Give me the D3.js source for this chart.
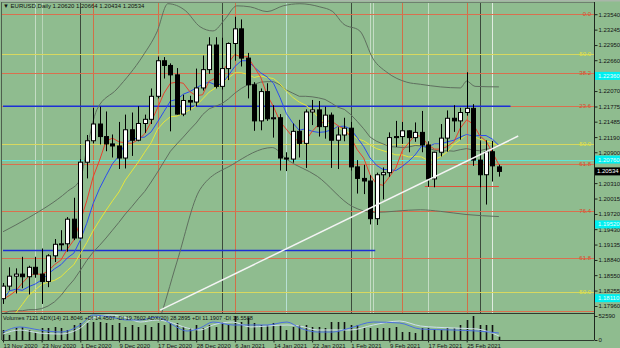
<!DOCTYPE html>
<html>
<head>
<meta charset="utf-8">
<script src="https://cdn.jsdelivr.net/npm/d3@7"></script>
<style>
  body { margin: 0; background: #8fbc8f; }
  svg { display: block; font-family: "Liberation Sans", Arial, sans-serif; }
</style>
</head>
<body>
<script>
// ---- data (EURUSD, Daily) ----
const dates = ["2020-11-13","2020-11-16","2020-11-17","2020-11-18","2020-11-19","2020-11-20","2020-11-23","2020-11-24","2020-11-25","2020-11-26",
  "2020-11-27","2020-11-30","2020-12-01","2020-12-02","2020-12-03","2020-12-04","2020-12-07","2020-12-08","2020-12-09","2020-12-10",
  "2020-12-11","2020-12-14","2020-12-15","2020-12-16","2020-12-17","2020-12-18","2020-12-21","2020-12-22","2020-12-23","2020-12-24",
  "2020-12-28","2020-12-29","2020-12-30","2020-12-31","2021-01-04","2021-01-05","2021-01-06","2021-01-07","2021-01-08","2021-01-11",
  "2021-01-12","2021-01-13","2021-01-14","2021-01-15","2021-01-18","2021-01-19","2021-01-20","2021-01-21","2021-01-22","2021-01-25",
  "2021-01-26","2021-01-27","2021-01-28","2021-01-29","2021-02-01","2021-02-02","2021-02-03","2021-02-04","2021-02-05","2021-02-08",
  "2021-02-09","2021-02-10","2021-02-11","2021-02-12","2021-02-15","2021-02-16","2021-02-17","2021-02-18","2021-02-19","2021-02-22",
  "2021-02-23","2021-02-24","2021-02-25","2021-02-26","2021-03-01","2021-03-02","2021-03-03","2021-03-04"];

const open = [1.1810,1.1834,1.1853,1.1857,1.1852,1.1870,1.1857,1.1843,1.1892,1.1914,
  1.1915,1.1962,1.1926,1.2071,1.2112,1.2144,1.2120,1.2106,1.2102,1.2079,
  1.2133,1.2113,1.2145,1.2153,1.2197,1.2265,1.2256,1.2238,1.2163,1.2189,
  1.2186,1.2213,1.2248,1.2295,1.2216,1.2250,1.2298,1.2326,1.2270,1.2219,
  1.2150,1.2206,1.2154,1.2156,1.2079,1.2077,1.2130,1.2107,1.2167,1.2171,
  1.2139,1.2161,1.2113,1.2123,1.2136,1.2062,1.2040,1.2035,1.1963,1.2047,
  1.2051,1.2118,1.2120,1.2131,1.2118,1.2128,1.2104,1.2039,1.2090,1.2117,
  1.2155,1.2150,1.2166,1.2174,1.2075,1.2047,1.2091,1.20620];
const high = [1.1840,1.1870,1.1868,1.1890,1.1873,1.1890,1.1906,1.1895,1.1924,1.1941,
  1.1966,1.2003,1.2077,1.2123,1.2175,1.2177,1.2168,1.2124,1.2148,1.2162,
  1.2166,1.2178,1.2162,1.2212,1.2273,1.2272,1.2260,1.2251,1.2200,1.2198,
  1.2250,1.2275,1.2310,1.2310,1.2309,1.2300,1.2349,1.2344,1.2280,1.2224,
  1.2212,1.2222,1.2180,1.2163,1.2090,1.2145,1.2152,1.2172,1.2190,1.2188,
  1.2177,1.2166,1.2138,1.2156,1.2148,1.2075,1.2066,1.2046,1.2051,1.2061,
  1.2128,1.2150,1.2148,1.2132,1.2147,1.2169,1.2111,1.2091,1.2144,1.2170,
  1.2180,1.2175,1.2243,1.2182,1.2111,1.2113,1.2112,1.20664];
const low = [1.1800,1.1826,1.1820,1.1830,1.1818,1.1850,1.1800,1.1832,1.1880,1.1902,
  1.1900,1.1922,1.1925,1.2040,1.2107,1.2105,1.2092,1.2080,1.2058,1.2059,
  1.2083,1.2111,1.2127,1.2144,1.2193,1.2231,1.2130,1.2162,1.2159,1.2170,
  1.2178,1.2208,1.2240,1.2212,1.2210,1.2228,1.2265,1.2254,1.2193,1.2131,
  1.2132,1.2150,1.2118,1.2055,1.2054,1.2070,1.2080,1.2060,1.2142,1.2120,
  1.2116,1.2060,1.2058,1.2111,1.2055,1.2011,1.2010,1.1952,1.1951,1.2000,
  1.2043,1.2100,1.2106,1.2090,1.2110,1.2090,1.2024,1.2023,1.2082,1.2091,
  1.2129,1.2114,1.2160,1.2064,1.2023,1.1990,1.2034,1.20434];
const close = [1.1834,1.1853,1.1857,1.1852,1.1870,1.1857,1.1843,1.1892,1.1914,1.1915,
  1.1962,1.1926,1.2071,1.2112,1.2144,1.2120,1.2106,1.2102,1.2079,1.2133,
  1.2113,1.2145,1.2153,1.2197,1.2265,1.2256,1.2238,1.2163,1.2189,1.2186,
  1.2213,1.2248,1.2295,1.2216,1.2250,1.2298,1.2326,1.2270,1.2219,1.2150,
  1.2206,1.2154,1.2156,1.2079,1.2077,1.2130,1.2107,1.2167,1.2171,1.2139,
  1.2161,1.2113,1.2123,1.2136,1.2062,1.2040,1.2035,1.1963,1.2047,1.2051,
  1.2118,1.2120,1.2131,1.2118,1.2128,1.2104,1.2039,1.2090,1.2117,1.2155,
  1.2150,1.2166,1.2174,1.2075,1.2047,1.2091,1.2064,1.20534];

const volume = [21900,11000,26300,28500,21900,17500,26300,26300,28500,26300,
  21900,32900,37200,37200,39400,39400,37200,32900,37200,28500,
  32900,28500,32900,28500,37200,32900,39400,37200,28500,26300,
  32900,26300,32900,28500,39400,32900,52600,39400,48200,37200,
  32900,32900,37200,32900,21900,28500,32900,32900,28500,28500,
  26300,39400,39400,39400,32900,32900,26300,26300,26300,26300,
  26300,28500,17500,17500,15300,26300,26300,21900,21900,26300,
  26300,32900,43800,52600,32900,32900,32900,7121];

// moving averages (red fast, blue mid, yellow slow)
const maRed = [1.1809,1.1816,1.1825,1.1840,1.1853,1.1858,1.1856,1.1863,1.1875,1.1884,1.1905,1.1922,1.1958,1.1997,1.2043,1.2075,1.2111,1.2117,1.2110,1.2108,
  1.2107,1.2114,1.2125,1.2148,1.2175,1.2203,1.2222,1.2224,1.2222,1.2206,1.2198,1.2200,1.2226,1.2232,1.2244,1.2261,1.2277,1.2272,1.2273,1.2253,
  1.2234,1.2200,1.2177,1.2149,1.2134,1.2119,1.2110,1.2112,1.2130,1.2143,1.2149,1.2150,1.2141,1.2134,1.2119,1.2095,1.2079,1.2047,1.2029,1.2027,
  1.2043,1.2060,1.2093,1.2108,1.2123,1.2120,1.2104,1.2096,1.2096,1.2101,1.2110,1.2136,1.2152,1.2144,1.2122,1.2111,1.2090,1.2066];
const maBlue = [1.1808,1.1825,1.1828,1.1826,1.1833,1.1838,1.1846,1.1857,1.1867,1.1875,1.1888,1.1897,1.1922,1.1954,1.1992,1.2021,1.2045,1.2068,1.2083,1.2108,
  1.2114,1.2118,1.2119,1.2129,1.2148,1.2168,1.2188,1.2191,1.2201,1.2206,1.2213,1.2220,1.2224,1.2219,1.2220,1.2237,1.2254,1.2265,1.2265,1.2253,
  1.2242,1.2234,1.2222,1.2195,1.2164,1.2146,1.2132,1.2135,1.2130,1.2128,1.2129,1.2133,1.2139,1.2140,1.2134,1.2118,1.2101,1.2079,1.2065,1.2057,
  1.2057,1.2055,1.2063,1.2073,1.2085,1.2102,1.2101,1.2106,1.2106,1.2110,1.2113,1.2119,1.2124,1.2121,1.2122,1.2122,1.2115,1.2103];
const maYellow = [1.1761,1.1769,1.1783,1.1799,1.1816,1.1827,1.1837,1.1842,1.1845,1.1852,1.1864,1.1875,1.1896,1.1917,1.1940,1.1960,1.1979,1.1997,1.2014,1.2037,
  1.2054,1.2071,1.2090,1.2108,1.2134,1.2148,1.2158,1.2159,1.2165,1.2171,1.2179,1.2192,1.2205,1.2213,1.2221,1.2232,1.2242,1.2242,1.2239,1.2233,
  1.2236,1.2233,1.2231,1.2221,1.2207,1.2195,1.2186,1.2180,1.2170,1.2156,1.2147,1.2139,1.2137,1.2132,1.2125,1.2116,1.2112,1.2104,1.2097,1.2093,
  1.2089,1.2085,1.2085,1.2081,1.2082,1.2081,1.2074,1.2076,1.2082,1.2091,1.2105,1.2114,1.2124,1.2121,1.2115,1.2112,1.2108,1.2102];

// bands: middle per bar, upper/lower read as [bar, price]
const bbMid = [1.1781,1.1786,1.1787,1.1787,1.1789,1.1789,1.1791,1.1796,1.1804,1.1816,1.1832,1.1846,1.1864,1.1883,1.1899,1.1912,1.1926,1.1941,1.1956,1.1972,
  1.1986,1.2001,1.2015,1.2033,1.2052,1.2072,1.2092,1.2106,1.2119,1.2133,1.2146,1.2162,1.2173,1.2178,1.2183,1.2192,1.2203,1.2212,1.2219,1.2220,
  1.2224,1.2225,1.2225,1.2219,1.2209,1.2203,1.2197,1.2197,1.2196,1.2194,1.2191,1.2184,1.2176,1.2172,1.2162,1.2149,1.2135,1.2119,1.2111,1.2106,
  1.2101,1.2100,1.2099,1.2100,1.2103,1.2102,1.2098,1.2094,1.2092,1.2093,1.2092,1.2095,1.2097,1.2094,1.2093,1.2096,1.2097,1.2102];
const bbUpper = [[0,1.1938],[4,1.1965],[10,1.2015],[12,1.2038],[13,1.2096],[14.6,1.2172],[17.7,1.2211],[21.7,1.2274],[23.9,1.2320],
  [25.6,1.2374],[28.3,1.2361],[30.6,1.2330],[32.6,1.2322],[34.5,1.2345],[36.3,1.2370],[38.4,1.2368],[41,1.2359],[43.5,1.2370],
  [46.1,1.2374],[49.2,1.2368],[51.2,1.2359],[52.8,1.2336],[55.4,1.2322],[57.5,1.2268],[59.6,1.2243],[62.7,1.2224],[64.8,1.2220],
  [67.9,1.2215],[71,1.2213],[72,1.2226],[73.3,1.2216],[77,1.2215]];
const bbLower = [[0,1.1650],[12,1.1640],[20,1.1680],[24,1.1760],[27,1.1880],[30.6,1.2019],[35.7,1.2067],[41.8,1.2099],[44.1,1.2076],
  [48.8,1.2044],[54.3,1.1986],[57.5,1.1975],[64.8,1.1980],[67.9,1.1977],[71.9,1.1971],[77,1.1967]];

// volume window lines
const volLineBlue = [[0,17500],[2.6,28500],[5.7,21900],[8.9,17500],[12,32900],[14,54800],[16.6,50400],[19.3,43800],[21.3,43800],[23.9,50400],
  [24.8,46000],[26.4,32900],[28.6,19700],[30.6,26300],[32.6,39400],[35.7,32900],[38.4,32900],[41,32900],[44.1,39400],[46.1,26300],
  [48.8,17500],[51.2,17500],[53.9,26300],[57.5,39400],[61.6,37200],[64.8,24100],[69.9,21900],[73.6,19700],[77,15300]];
const volLineLight = [[0,13100],[2.6,21900],[5.7,15300],[8.9,13100],[12,26300],[14,48200],[16.6,54800],[19.3,48200],[21.3,39400],[23.9,43800],
  [25.8,39400],[28.6,26300],[30.6,21900],[32.6,32900],[35.7,39400],[38.4,28500],[41,30700],[44.1,32900],[46.1,30700],[48.8,21900],
  [51.2,21900],[53.9,21900],[57.5,32900],[61.6,41600],[64.8,30700],[69.9,26300],[73.6,24100],[77,8800]];

// price axis / date axis labels (the one hidden under the close marker is left out)
const priceTicks = [1.17960,1.18255,1.18550,1.18840,1.19135,1.19430,1.19720,1.20015,1.20310,
  1.20900,1.21190,1.21485,1.21775,1.22070,1.22365,1.22660,1.22950,1.23245,1.23540];
const dateTicks = ["2020-11-13","2020-11-23","2020-12-01","2020-12-09","2020-12-17","2020-12-28","2021-01-06",
  "2021-01-14","2021-01-22","2021-02-01","2021-02-09","2021-02-17","2021-02-25"];

// drawn objects
const fibLevels = [1.2355, 1.2278, 1.2242, 1.2178, 1.2105, 1.2067, 1.1977, 1.1888, 1.1823, 1.1786];
const fibLabels = ["0.0", "50.0", "38.2", "23.6", "50.0", "61.8", "76.4", "61.8", "50.0", ""];
const fibColors = ["#d9704f", "#d8d860", "#d9704f", "#d9704f", "#d8d860", "#d9704f", "#d9704f", "#d9704f", "#d8d860", "#d9704f"];
const cyanLevels = [1.2236, 1.2076, 1.1952, 1.1811];
const blueLines = [{p: 1.2178, from: 0, to: 78.8}, {p: 1.1902, from: 0, to: 57.8}];
const redSegment = {p: 1.2026, from: 65.5, to: 77};
const trend = [[24.4, 1.1788], [80, 1.2121]];
const vLines = [{i: 5, c: "#c4dcc4"}, {i: 6, c: "#b8d6b8"}, {i: 12, c: "#3c4a3c"}, {i: 14, c: "#d07048"},
  {i: 24, c: "#d07048"}, {i: 34, c: "#3c4a3c"}, {i: 36, c: "#d07048"}, {i: 44, c: "#b8e0d4"},
  {i: 54, c: "#3c4a3c"}, {i: 57, c: "#c4dcc4"}, {i: 57.5, c: "#c4dcc4"}, {i: 62, c: "#d07048"},
  {i: 66, c: "#c4dcc4"}, {i: 72, c: "#d07048"}, {i: 74, c: "#3c4a3c"}, {i: 76, c: "#e0ece0"}];

// ---- layout ----
const W = 620, H = 348;
const left = 2, right = 594, mainTop = 2, mainBot = 313, indTop = 314, indBot = 340;

const x = d3.scaleLinear().domain([0, 77]).range([3, 498.9]);
const y = d3.scaleLinear().domain([1.17960, 1.23540]).range([306, 14.2]);
const yv = d3.scaleLinear().domain([0, 52590]).range([indBot, 316]);
const parse = d3.timeParse("%Y-%m-%d");
const fmt = d3.timeFormat("%-d %b %Y");
const px = v => Math.round(v) + 0.5;

const svg = d3.select("body").append("svg").attr("width", W).attr("height", H);
svg.append("rect").attr("width", W).attr("height", H).attr("fill", "#8fbc8f");
svg.append("rect").attr("width", W).attr("height", 1.5).attr("fill", "#a9b6a9");

const defs = svg.append("defs");
defs.append("clipPath").attr("id", "cm").append("rect")
  .attr("x", left).attr("y", mainTop).attr("width", right - left).attr("height", mainBot - mainTop);
defs.append("clipPath").attr("id", "ci").append("rect")
  .attr("x", left).attr("y", indTop).attr("width", right - left).attr("height", indBot - indTop);

const main = svg.append("g").attr("clip-path", "url(#cm)");

// vertical lines
main.selectAll(".vl").data(vLines).join("line")
  .attr("x1", d => px(x(d.i))).attr("x2", d => px(x(d.i)))
  .attr("y1", mainTop).attr("y2", mainBot)
  .attr("stroke", d => d.c).attr("stroke-width", 1);

// fibonacci / horizontal levels
main.selectAll(".fib").data(fibLevels).join("line")
  .attr("x1", left).attr("x2", right)
  .attr("y1", d => px(y(d))).attr("y2", d => px(y(d)))
  .attr("stroke", (d, i) => fibColors[i]).attr("stroke-width", 1);

main.append("line")
  .attr("x1", left).attr("x2", right)
  .attr("y1", px(y(cyanLevels[1]))).attr("y2", px(y(cyanLevels[1])))
  .attr("stroke", "#5ee6dc").attr("stroke-width", 1);

main.selectAll(".bl").data(blueLines).join("line")
  .attr("x1", d => x(d.from)).attr("x2", d => x(d.to))
  .attr("y1", d => y(d.p)).attr("y2", d => y(d.p))
  .attr("stroke", "#1c2fd6").attr("stroke-width", 1.6);

main.append("line")
  .attr("x1", x(redSegment.from)).attr("x2", x(redSegment.to))
  .attr("y1", px(y(redSegment.p))).attr("y2", px(y(redSegment.p)))
  .attr("stroke", "#e0503a").attr("stroke-width", 1.2);

// bands
const bandLine = d3.line().x(d => x(d[0])).y(d => y(d[1])).curve(d3.curveMonotoneX);
const seriesLine = d3.line().x((d, i) => x(i)).y(d => y(d));
main.append("path").attr("d", bandLine(bbUpper)).attr("fill", "none").attr("stroke", "#5f6f5f").attr("stroke-width", 1);
main.append("path").attr("d", bandLine(bbLower)).attr("fill", "none").attr("stroke", "#5f6f5f").attr("stroke-width", 1);
main.append("path").attr("d", seriesLine(bbMid)).attr("fill", "none").attr("stroke", "#5f6f5f").attr("stroke-width", 1);

// moving averages
[[maYellow, "#e6e63c"], [maBlue, "#2a4cf0"], [maRed, "#e8402c"]].forEach(([s, c]) => {
  main.append("path").attr("d", seriesLine(s)).attr("fill", "none").attr("stroke", c).attr("stroke-width", 1);
});

// candles
const candles = main.selectAll(".c").data(close).join("g");
candles.append("line")
  .attr("x1", (d, i) => px(x(i))).attr("x2", (d, i) => px(x(i)))
  .attr("y1", (d, i) => y(high[i])).attr("y2", (d, i) => y(low[i]))
  .attr("stroke", "#000").attr("stroke-width", 1);
candles.append("rect")
  .attr("x", (d, i) => Math.round(x(i)) - 1.5)
  .attr("width", 4)
  .attr("y", (d, i) => y(Math.max(open[i], d)))
  .attr("height", (d, i) => Math.max(1, Math.abs(y(open[i]) - y(d))))
  .attr("fill", (d, i) => d >= open[i] ? "#ffffff" : "#000000")
  .attr("stroke", "#000").attr("stroke-width", 1);

// trendline
main.append("line")
  .attr("x1", x(trend[0][0])).attr("y1", y(trend[0][1]))
  .attr("x2", x(trend[1][0])).attr("y2", y(trend[1][1]))
  .attr("stroke", "#f4f4f4").attr("stroke-width", 1.5);

// fib labels
main.selectAll(".fl").data(fibLevels).join("text")
  .attr("x", 591).attr("y", d => y(d) + 2)
  .attr("text-anchor", "end").attr("font-size", 6)
  .attr("fill", (d, i) => fibColors[i] === "#d8d860" ? "#e4e43a" : "#d84a2e")
  .text((d, i) => fibLabels[i]);

// ---- volume window ----
const ind = svg.append("g").attr("clip-path", "url(#ci)");
ind.selectAll(".v").data(volume).join("line")
  .attr("x1", (d, i) => px(x(i))).attr("x2", (d, i) => px(x(i)))
  .attr("y1", indBot).attr("y2", d => yv(d))
  .attr("stroke", "#101010").attr("stroke-width", 1.6);
const vLine = d3.line().x(d => x(d[0])).y(d => yv(d[1])).curve(d3.curveMonotoneX);
ind.append("path").attr("d", vLine(volLineLight)).attr("fill", "none").attr("stroke", "#cfe0ee").attr("stroke-width", 1);
ind.append("path").attr("d", vLine(volLineBlue)).attr("fill", "none").attr("stroke", "#4a6ee0").attr("stroke-width", 1);

// frames
svg.append("line").attr("x1", left).attr("x2", right).attr("y1", 313.5).attr("y2", 313.5).attr("stroke", "#2e3a2e");
svg.append("line").attr("x1", 1.5).attr("x2", 1.5).attr("y1", mainTop).attr("y2", indBot).attr("stroke", "#4f5f4f");
svg.append("line").attr("x1", left).attr("x2", right).attr("y1", 2.5).attr("y2", 2.5).attr("stroke", "#6f806f");
svg.append("line").attr("x1", left).attr("x2", right).attr("y1", indBot + 0.5).attr("y2", indBot + 0.5).attr("stroke", "#2e3a2e");

// ---- axes ----
const yAxis = svg.append("g").attr("transform", `translate(${right + 0.5},0)`)
  .call(d3.axisRight(y).tickValues(priceTicks).tickFormat(d3.format(".5f")).tickSize(3).tickPadding(1));
yAxis.select(".domain").remove();
yAxis.append("line").attr("y1", mainTop).attr("y2", indBot).attr("stroke", "#1e261e");
yAxis.selectAll("text").attr("font-size", 6).attr("fill", "#141414").attr("font-family", "Liberation Sans, Arial, sans-serif");
yAxis.selectAll(".tick line").attr("stroke", "#1e261e");

const vAxis = svg.append("g").attr("transform", `translate(${right + 0.5},0)`)
  .call(d3.axisRight(yv).tickValues([0, 52590]).tickFormat(d3.format("d")).tickSize(3).tickPadding(1));
vAxis.select(".domain").remove();
vAxis.selectAll("text").attr("font-size", 6).attr("fill", "#141414").attr("font-family", "Liberation Sans, Arial, sans-serif");
vAxis.selectAll(".tick line").attr("stroke", "#1e261e");

const tickIdx = dateTicks.map(t => dates.indexOf(t));
const xAxis = svg.append("g").attr("transform", `translate(0,${indBot + 0.5})`)
  .call(d3.axisBottom(x).tickValues(tickIdx).tickFormat(i => fmt(parse(dates[i]))).tickSize(2).tickPadding(1));
xAxis.select(".domain").remove();
xAxis.selectAll("text").attr("text-anchor", "start").attr("font-size", 6).attr("fill", "#141414")
  .attr("font-family", "Liberation Sans, Arial, sans-serif");
xAxis.selectAll(".tick line").attr("stroke", "#1e261e");

// price markers on the axis
svg.selectAll(".cy").data(cyanLevels).join("rect")
  .attr("x", right + 1).attr("width", 25).attr("y", d => y(d) - 4).attr("height", 8)
  .attr("fill", "#00f0f0");
svg.selectAll(".cyt").data(cyanLevels).join("text")
  .attr("x", right + 4).attr("y", d => y(d) + 2).attr("font-size", 6).attr("fill", "#e8ffff")
  .text(d => d.toFixed(5));
const last = close[close.length - 1];
svg.append("rect").attr("x", right + 1).attr("width", 25).attr("y", y(last) - 4).attr("height", 8).attr("fill", "#000");
svg.append("text").attr("x", right + 3).attr("y", y(last) + 2).attr("font-size", 6).attr("fill", "#fff")
  .text(last.toFixed(5));

// ---- headers ----
svg.append("text").attr("x", 3).attr("y", 8).attr("font-size", 6).attr("fill", "#101010")
  .text(`▼ EURUSD,Daily  ${open[77].toFixed(5)} ${high[77].toFixed(5)} ${low[77].toFixed(5)} ${close[77].toFixed(5)}`);
svg.append("text").attr("x", 3).attr("y", 319.5).attr("font-size", 5.6).attr("fill", "#101010")
  .text(`Volumes ${volume[77]}  ADX(14) 21.8046 +DI 14.4507 -DI 19.7602  ADX(20) 28.2895 +DI 11.1907 -DI 16.5588`);
</script>
</body>
</html>
